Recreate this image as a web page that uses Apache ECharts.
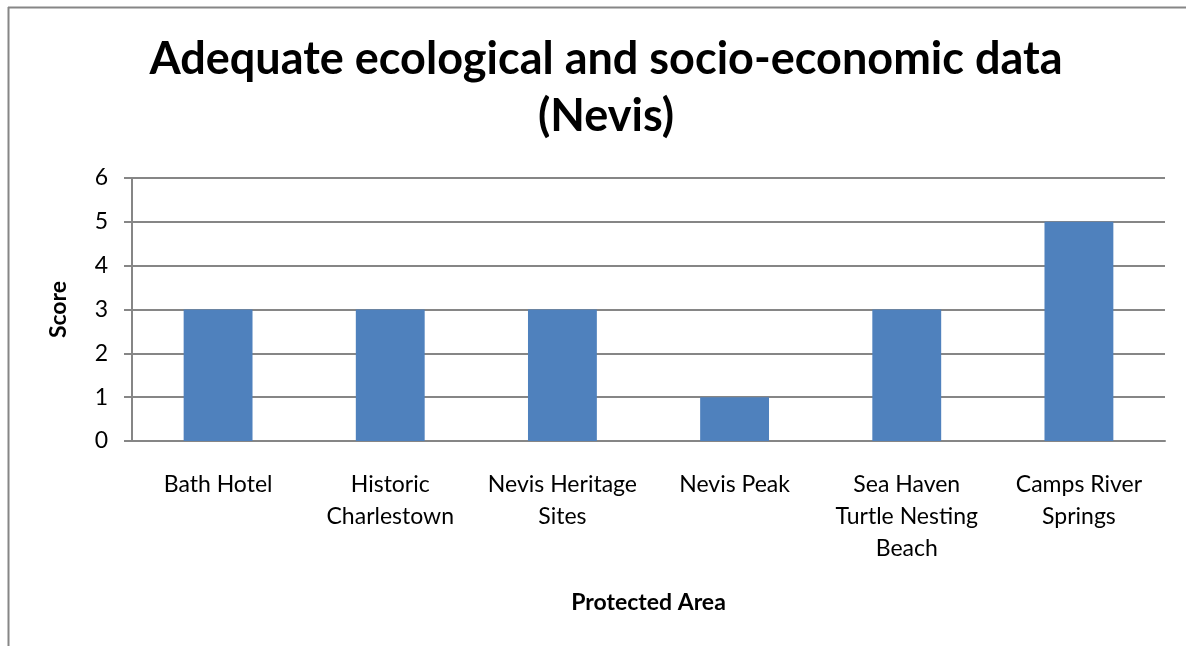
<!DOCTYPE html>
<html>
<head>
<meta charset="utf-8">
<script src="https://cdn.jsdelivr.net/npm/echarts@6/dist/echarts.min.js"></script>
<style>
  html, body { margin: 0; padding: 0; background: #fff; }
  #chart { width: 1186px; height: 646px; }
</style>
</head>
<body>
<div id="chart"></div>
<script>
const titleText = 'Adequate ecological and socio-economic data\n(Nevis)';
const categories = ['Bath Hotel', 'Historic\nCharlestown', 'Nevis Heritage\nSites', 'Nevis Peak', 'Sea Haven\nTurtle Nesting\nBeach', 'Camps River\nSprings'];
const scores = [3, 3, 3, 1, 3, 5];
const yTicks = [0, 1, 2, 3, 4, 5, 6];

const fontFamily = 'Lato, "Open Sans", sans-serif';
const chart = echarts.init(document.getElementById('chart'));

// 绘制柱状图
const option = {
  animation: false,
  title: {
    text: titleText,
    left: 601,
    textAlign: 'center',
    top: 26,
    textStyle: { fontFamily: fontFamily, fontSize: 45, fontWeight: 'bold', color: '#000', lineHeight: 57 }
  },
  graphic: [
    { type: 'line', shape: { x1: 8.5, y1: 7, x2: 8.5, y2: 646 }, style: { stroke: '#868686', lineWidth: 2 } },
    { type: 'line', shape: { x1: 8, y1: 7.5, x2: 1186, y2: 7.5 }, style: { stroke: '#868686', lineWidth: 2 } }
  ],
  grid: { left: 132, right: 21, top: 178, bottom: 205, containLabel: false },
  xAxis: {
    type: 'category',
    data: categories,
    name: 'Protected Area',
    nameLocation: 'middle',
    nameGap: 150,
    nameTextStyle: { fontFamily: fontFamily, fontSize: 23, fontWeight: 'bold', color: '#000' },
    axisLine: { lineStyle: { color: '#868686', width: 2 } },
    axisTick: { show: false },
    axisLabel: { fontFamily: fontFamily, fontSize: 23, color: '#000', lineHeight: 32, margin: 28, interval: 0 }
  },
  yAxis: {
    type: 'value',
    min: yTicks[0],
    max: yTicks[yTicks.length - 1],
    interval: 1,
    name: 'Score',
    nameLocation: 'middle',
    nameGap: 62,
    nameTextStyle: { fontFamily: fontFamily, fontSize: 23, fontWeight: 'bold', color: '#000' },
    axisLine: { show: true, lineStyle: { color: '#868686', width: 2 } },
    axisTick: { show: true, length: 8, lineStyle: { color: '#868686', width: 2 } },
    splitLine: { lineStyle: { color: '#868686', width: 2 } },
    axisLabel: { fontFamily: fontFamily, fontSize: 23, color: '#000', margin: 24 }
  },
  series: [{
    type: 'bar',
    data: scores,
    barWidth: '40%',
    itemStyle: { color: '#4F81BD' }
  }]
};

chart.setOption(option);
</script>
</body>
</html>
